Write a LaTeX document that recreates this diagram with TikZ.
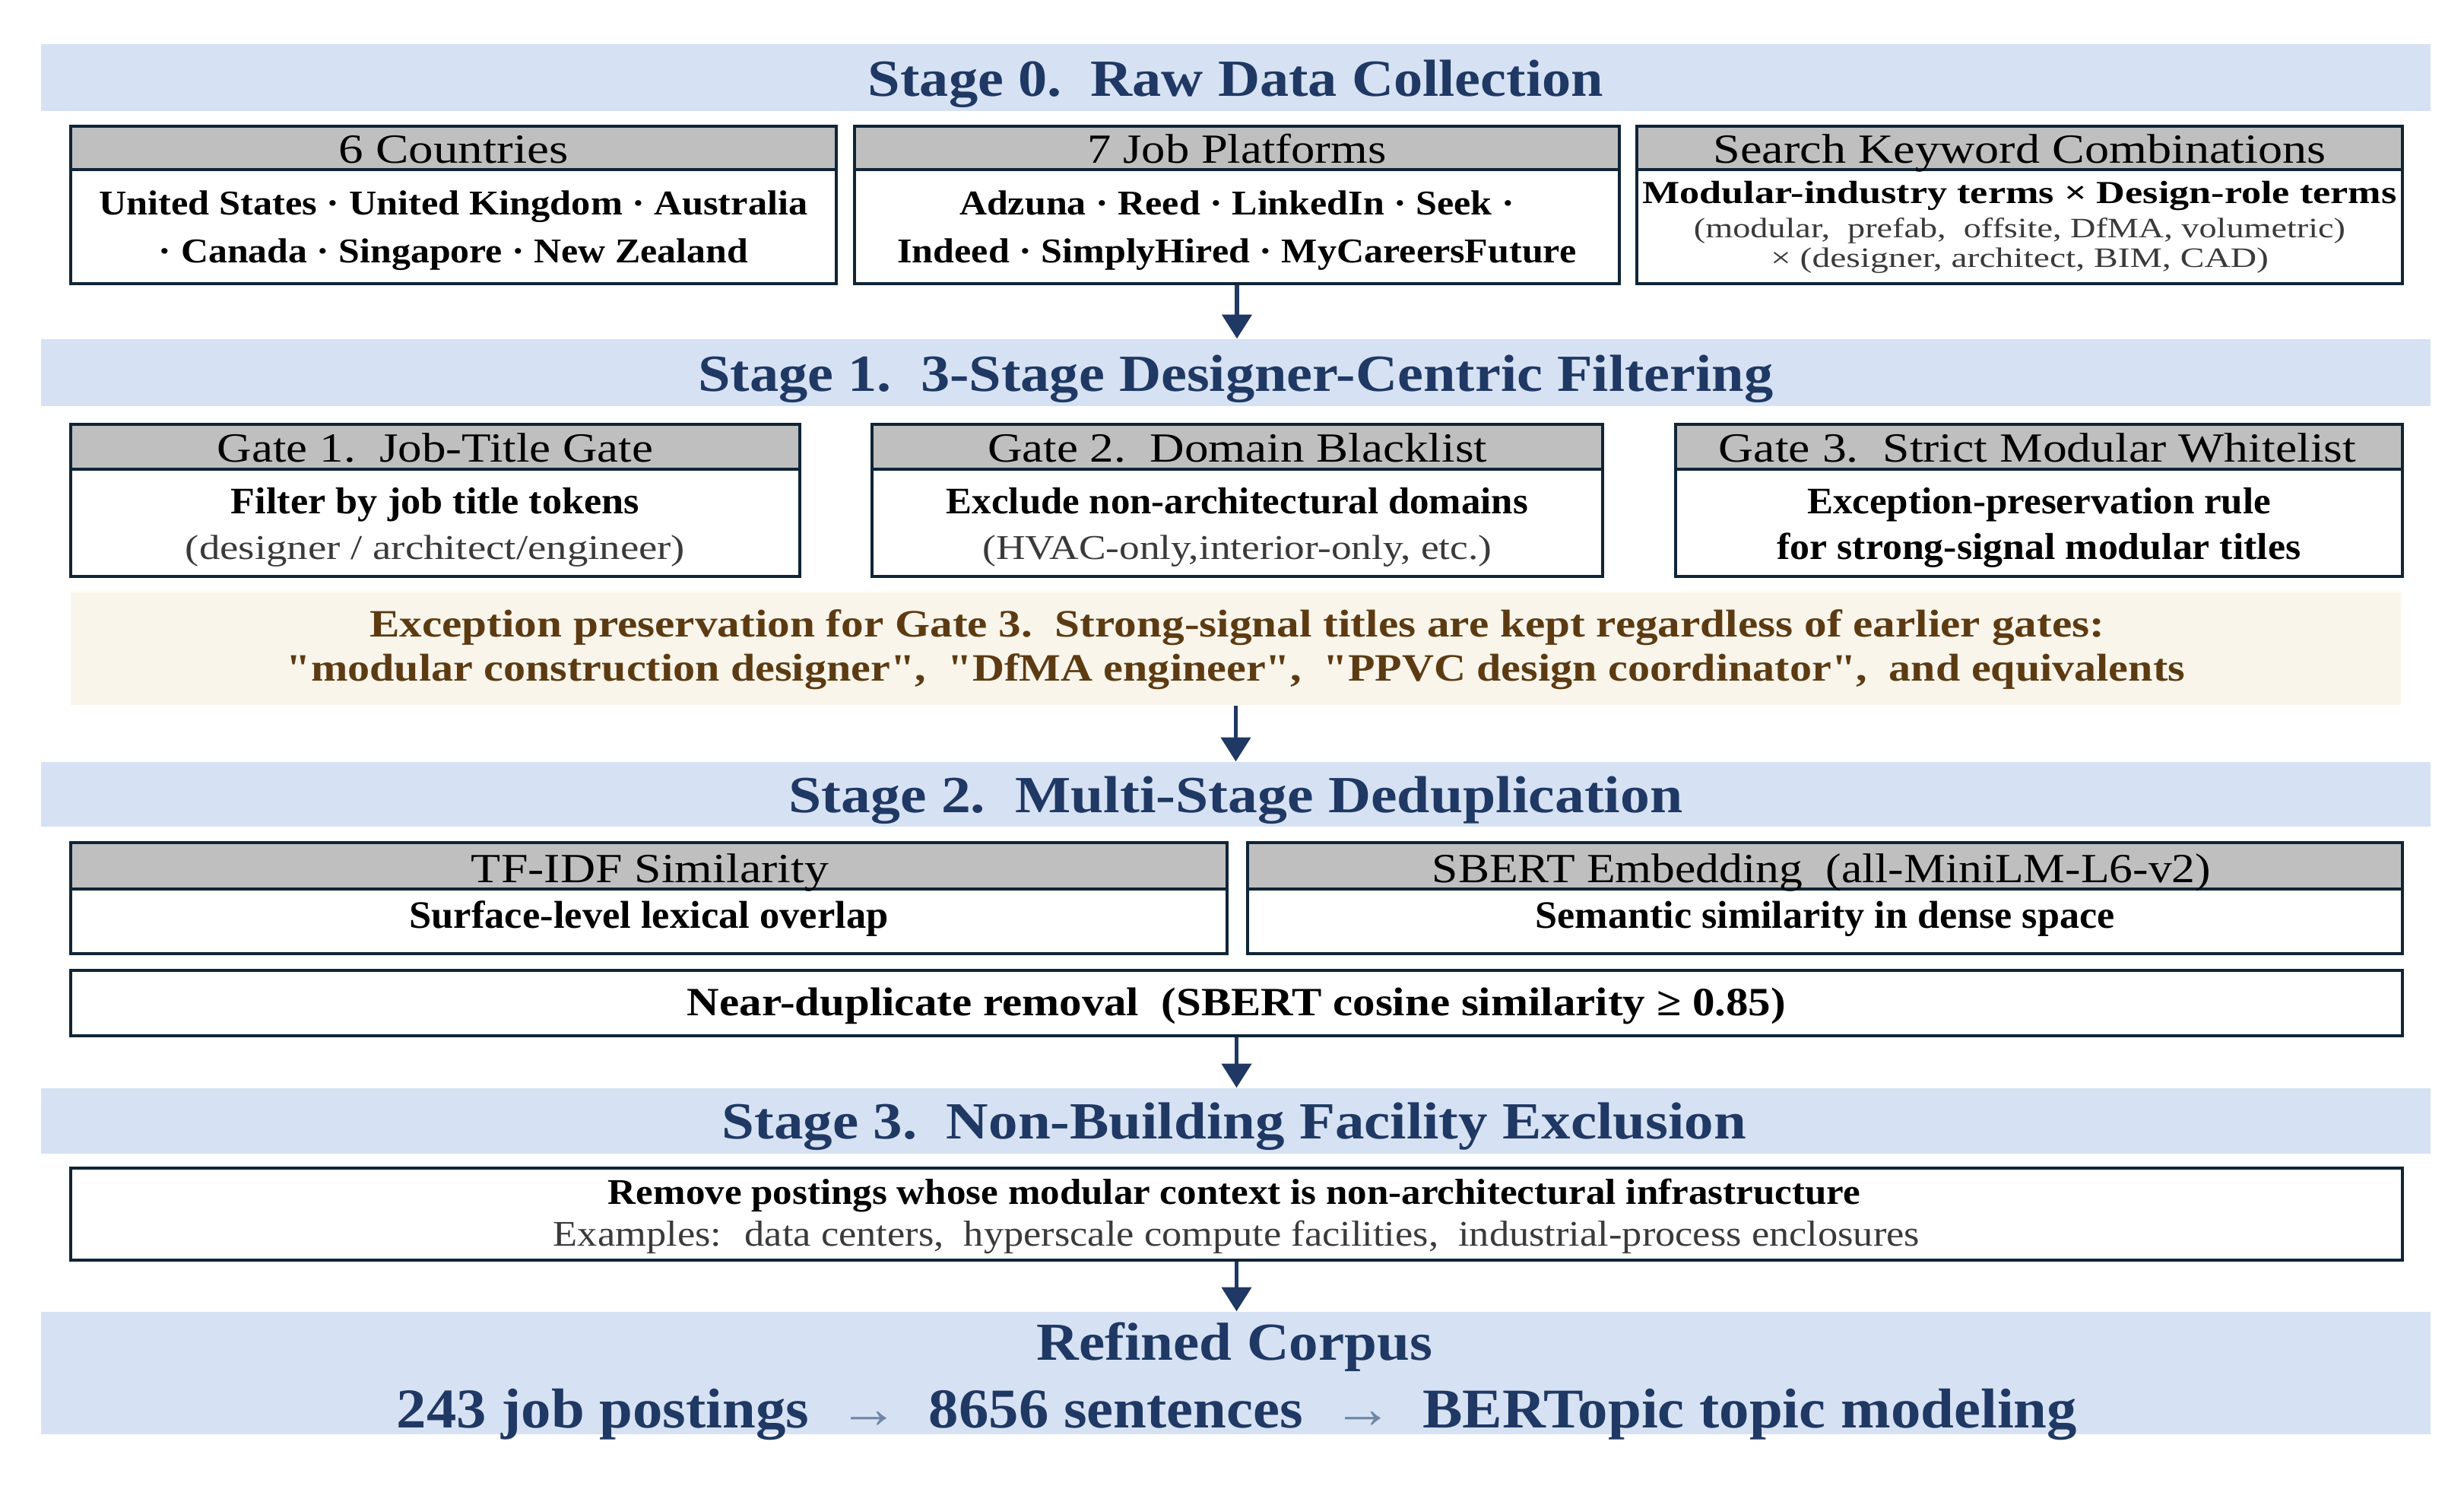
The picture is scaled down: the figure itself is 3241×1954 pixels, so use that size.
\documentclass[tikz,border=0pt]{standalone}
\usepackage{fontspec}
\usepackage{graphicx}
\setmainfont{Liberation Serif}
\usetikzlibrary{arrows.meta,fit}
\definecolor{bandblue}{HTML}{D6E2F3}
\definecolor{navy}{HTML}{1F3864}
\definecolor{hdrgray}{HTML}{BFBFBF}
\definecolor{boxline}{HTML}{0F2538}
\definecolor{beige}{HTML}{FAF5EA}
\definecolor{brown}{HTML}{5C3B13}
\definecolor{arrowgray}{HTML}{6F86A6}
\definecolor{subgray}{HTML}{3A3A3A}
\newlength\pxu
\setlength\pxu{0.01cm}
\newcommand{\fitw}[2]{\resizebox{#1\pxu}{\height}{#2}}
\newcommand{\qq}{\textquotedbl}
\tikzset{
  band/.style={fill=bandblue, draw=none, inner sep=0pt},
  hdr/.style={fill=hdrgray, draw=boxline, line width=1.1pt, inner sep=0pt},
  bodybox/.style={fill=white, draw=boxline, line width=1.1pt, inner sep=0pt},
  excband/.style={fill=beige, draw=none, inner sep=0pt},
  lbl/.style={anchor=base, inner sep=0pt},
  stagefont/.style={font=\fontsize{19.5}{22}\selectfont\bfseries, text=navy},
  hdrfont/.style={font=\fontsize{15.5}{18}\selectfont, text=black},
  bodyb/.style={font=\fontsize{13}{16}\selectfont\bfseries, text=black},
  subr/.style={font=\fontsize{13}{16}\selectfont, text=subgray},
  arr/.style={draw=navy, line width=1.5pt, -{Triangle[width=11pt,length=9pt]}, fill=navy}
}
\begin{document}
\begin{tikzpicture}[x=0.01cm, y=-0.01cm]
\useasboundingbox (0,0) rectangle (3241,1954);

% ---------- Stage 0 ----------
\node[band, fit={(54,58) (3197,146)}] (s0) {};
\node[lbl, stagefont] (s0t) at (1625.5,126) {\fitw{967}{Stage 0.~~Raw Data Collection}};

\node[hdr, fit={(93,166) (1100,223)}] (h0a) {};
\node[bodybox, fit={(93,223) (1100,373)}] (b0a) {};
\node[hdr, fit={(1124,166) (2130,223)}] (h0b) {};
\node[bodybox, fit={(1124,223) (2130,373)}] (b0b) {};
\node[hdr, fit={(2153,166) (3160,223)}] (h0c) {};
\node[bodybox, fit={(2153,223) (3160,373)}] (b0c) {};

\node[lbl, hdrfont] (t0a) at (596.5,214) {\fitw{302}{6 Countries}};
\node[lbl, bodyb] (t0a1) at (596.5,282) {\fitw{932}{United States · United Kingdom · Australia}};
\node[lbl, bodyb] (t0a2) at (596.5,345) {\fitw{775}{· Canada · Singapore · New Zealand}};

\node[lbl, hdrfont] (t0b) at (1627,214) {\fitw{393}{7 Job Platforms}};
\node[lbl, bodyb] (t0b1) at (1627,282) {\fitw{730}{Adzuna · Reed · LinkedIn · Seek ·}};
\node[lbl, bodyb] (t0b2) at (1627,345) {\fitw{893}{Indeed · SimplyHired · MyCareersFuture}};

\node[lbl, hdrfont] (t0c) at (2656.5,214) {\fitw{806}{Search Keyword Combinations}};
\node[lbl, font=\fontsize{12}{14}\selectfont\bfseries] (t0c1) at (2656.5,267) {\fitw{992}{Modular-industry terms × Design-role terms}};
\node[lbl, font=\fontsize{10.5}{12}\selectfont, text=subgray] (t0c2) at (2656.5,312) {\fitw{857}{(modular,~ prefab,~ offsite, DfMA, volumetric)}};
\node[lbl, font=\fontsize{10.5}{12}\selectfont, text=subgray] (t0c3) at (2656.5,351) {\fitw{655}{× (designer, architect, BIM, CAD)}};

% ---------- Stage 1 ----------
\node[band, fit={(54,446) (3197,534)}] (s1) {};
\node[lbl, stagefont] (s1t) at (1625.5,514) {\fitw{1414}{Stage 1.~~3-Stage Designer-Centric Filtering}};

\node[hdr, fit={(93,558) (1052,617)}] (g1h) {};
\node[bodybox, fit={(93,617) (1052,758)}] (g1b) {};
\node[hdr, fit={(1147,558) (2108,617)}] (g2h) {};
\node[bodybox, fit={(1147,617) (2108,758)}] (g2b) {};
\node[hdr, fit={(2204,558) (3160,617)}] (g3h) {};
\node[bodybox, fit={(2204,617) (3160,758)}] (g3b) {};

\node[lbl, hdrfont] (g1t) at (572.5,607) {\fitw{573}{Gate 1.~~Job-Title Gate}};
\node[lbl, bodyb, font=\fontsize{14}{16}\selectfont\bfseries] (g1t1) at (572.5,675) {\fitw{537}{Filter by job title tokens}};
\node[lbl, subr] (g1t2) at (572.5,735) {\fitw{657}{(designer / architect/engineer)}};

\node[lbl, hdrfont] (g2t) at (1627.5,607) {\fitw{657}{Gate 2.~~Domain Blacklist}};
\node[lbl, bodyb, font=\fontsize{14}{16}\selectfont\bfseries] (g2t1) at (1627.5,675) {\fitw{765}{Exclude non-architectural domains}};
\node[lbl, subr] (g2t2) at (1627.5,735) {\fitw{670}{(HVAC-only,interior-only, etc.)}};

\node[lbl, hdrfont] (g3t) at (2680,607) {\fitw{838}{Gate 3.~~Strict Modular Whitelist}};
\node[lbl, bodyb, font=\fontsize{14}{16}\selectfont\bfseries] (g3t1) at (2682,675) {\fitw{610}{Exception-preservation rule}};
\node[lbl, bodyb, font=\fontsize{14}{16}\selectfont\bfseries] (g3t2) at (2682,735) {\fitw{689}{for strong-signal modular titles}};

\node[excband, fit={(93,779) (3158,927)}] (exc) {};
\node[lbl, font=\fontsize{14.5}{17}\selectfont\bfseries, text=brown] (exc1) at (1627,837) {\fitw{2282}{Exception preservation for Gate 3.~~Strong-signal titles are kept regardless of earlier gates:}};
\node[lbl, font=\fontsize{14.5}{17}\selectfont\bfseries, text=brown] (exc2) at (1625.5,895) {\fitw{2497}{\qq modular construction designer\qq,~ \qq DfMA engineer\qq,~ \qq PPVC design coordinator\qq,~ and equivalents}};

% ---------- Stage 2 ----------
\node[band, fit={(54,1002) (3197,1087)}] (s2) {};
\node[lbl, stagefont] (s2t) at (1625.5,1068) {\fitw{1176}{Stage 2.~~Multi-Stage Deduplication}};

\node[hdr, fit={(93,1108) (1614,1169)}] (d1h) {};
\node[bodybox, fit={(93,1169) (1614,1254)}] (d1b) {};
\node[hdr, fit={(1641,1108) (3160,1169)}] (d2h) {};
\node[bodybox, fit={(1641,1169) (3160,1254)}] (d2b) {};

\node[lbl, hdrfont] (d1t) at (855,1160) {\fitw{470}{TF-IDF Similarity}};
\node[lbl, bodyb, font=\fontsize{14.5}{17}\selectfont\bfseries] (d1t1) at (853.5,1220) {\fitw{630}{Surface-level lexical overlap}};
\node[lbl, hdrfont] (d2t) at (2396,1160) {\fitw{1024}{SBERT Embedding~~(all-MiniLM-L6-v2)}};
\node[lbl, bodyb, font=\fontsize{14.5}{17}\selectfont\bfseries] (d2t1) at (2400.5,1220) {\fitw{762}{Semantic similarity in dense space}};

\node[bodybox, fit={(93,1276) (3160,1362)}] (nd) {};
\node[lbl, font=\fontsize{15}{18}\selectfont\bfseries] (ndt) at (1626.5,1335) {\fitw{1445}{Near-duplicate removal~~(SBERT cosine similarity ≥ 0.85)}};

% ---------- Stage 3 ----------
\node[band, fit={(54,1431) (3197,1517)}] (s3) {};
\node[lbl, stagefont] (s3t) at (1623.5,1497) {\fitw{1347}{Stage 3.~~Non-Building Facility Exclusion}};

\node[bodybox, fit={(93,1536) (3160,1657)}] (rm) {};
\node[lbl, font=\fontsize{13.5}{16}\selectfont\bfseries] (rm1) at (1623.5,1583) {\fitw{1647}{Remove postings whose modular context is non-architectural infrastructure}};
\node[lbl, font=\fontsize{13.5}{16}\selectfont, text=subgray] (rm2) at (1626.5,1638) {\fitw{1797}{Examples:~ data centers,~ hyperscale compute facilities,~ industrial-process enclosures}};

% ---------- Refined corpus ----------
\node[band, fit={(54,1725) (3197,1886)}] (rc) {};
\node[lbl, font=\fontsize{20}{24}\selectfont\bfseries, text=navy] (rct) at (1624,1788) {\fitw{520}{Refined Corpus}};
\node[lbl, font=\fontsize{21}{25}\selectfont\bfseries, text=navy] (rcl) at (1627,1877) {\fitw{2210}{243 job postings~~{\mdseries\color{arrowgray}→}~~8656 sentences~~{\mdseries\color{arrowgray}→}~~BERTopic topic modeling}};

% ---------- Arrows ----------
\draw[arr] (b0b.south) -- (b0b.south |- s1.north);
\draw[arr] (exc.south) -- (exc.south |- s2.north);
\draw[arr] (nd.south) -- (nd.south |- s3.north);
\draw[arr] (rm.south) -- (rm.south |- rc.north);
\end{tikzpicture}
\end{document}
